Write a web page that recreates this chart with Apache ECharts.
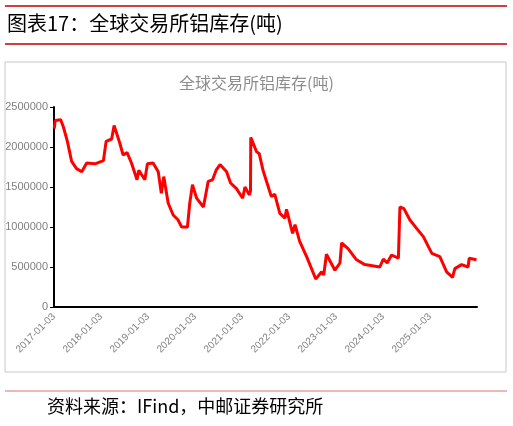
<!DOCTYPE html>
<html><head><meta charset="utf-8">
<script src="https://cdn.jsdelivr.net/npm/echarts@6/dist/echarts.min.js"></script>
<style>html,body{margin:0;padding:0;background:#fff}#c{width:513px;height:426px}</style>
</head><body><div id="c"></div>
<script>
var dates = ['2017-01-03','2017-01-10','2017-02-22','2017-03-15','2017-04-15','2017-05-18','2017-06-25','2017-08-05','2017-09-12','2017-11-15','2018-01-20','2018-02-10','2018-03-25','2018-04-13','2018-05-27','2018-06-22','2018-07-23','2018-08-26','2018-10-08','2018-10-22','2018-12-08','2018-12-28','2019-02-10','2019-03-22','2019-04-15','2019-05-04','2019-06-07','2019-07-16','2019-08-22','2019-09-20','2019-11-04','2019-11-22','2019-12-13','2020-01-14','2020-03-07','2020-04-13','2020-05-17','2020-06-14','2020-07-14','2020-09-03','2020-10-04','2020-11-19','2021-01-06','2021-01-24','2021-02-28','2021-03-08','2021-03-10','2021-03-18','2021-04-24','2021-05-14','2021-06-13','2021-08-17','2021-09-12','2021-10-22','2021-11-30','2021-12-13','2022-01-29','2022-02-17','2022-03-25','2022-05-18','2022-07-28','2022-09-12','2022-09-28','2022-10-19','2022-12-24','2023-02-01','2023-02-14','2023-04-05','2023-06-10','2023-08-13','2023-12-08','2024-01-04','2024-02-03','2024-03-08','2024-04-30','2024-05-12','2024-06-12','2024-07-28','2024-09-20','2024-11-10','2025-01-15','2025-03-18','2025-05-10','2025-06-25','2025-07-13','2025-09-03','2025-10-24','2025-11-01','2025-12-28'];
var stocks = [2230000,2330000,2340000,2250000,2070000,1820000,1730000,1690000,1800000,1790000,1830000,2070000,2100000,2270000,2050000,1900000,1930000,1800000,1590000,1710000,1590000,1790000,1800000,1690000,1420000,1630000,1300000,1150000,1090000,1000000,1000000,1300000,1530000,1360000,1250000,1570000,1590000,1710000,1780000,1690000,1550000,1480000,1360000,1500000,1400000,1450000,2120000,2110000,1940000,1920000,1710000,1380000,1410000,1170000,1110000,1220000,920000,1030000,820000,630000,350000,440000,400000,660000,460000,550000,800000,730000,590000,530000,500000,600000,550000,650000,610000,1250000,1230000,1090000,980000,880000,670000,630000,440000,370000,480000,530000,500000,610000,590000];
var yTicks = [0,500000,1000000,1500000,2000000,2500000];
var seriesData = dates.map(function(d,i){return [d, stocks[i]];});
var chart = echarts.init(document.getElementById('c'));
chart.setOption({
  animation:false,
  title:{text:'全球交易所铝库存(吨)',left:'center',top:70,textStyle:{color:'#8c8c8c',fontSize:16,fontWeight:'normal',fontFamily:'Noto Sans CJK SC'}},
  grid:{left:54,right:36,top:107,bottom:119},
  xAxis:{type:'time',min:'2017-01-01',max:'2026-01-01',
    minInterval:365*86400000,maxInterval:366*86400000,
    axisLine:{lineStyle:{color:'#000',width:2}},axisTick:{show:false},splitLine:{show:false},
    axisLabel:{rotate:45,color:'#7f7f7f',fontSize:10,showMaxLabel:false,hideOverlap:false,
      formatter:function(v){return new Date(v).getFullYear()+'-01-03';}}},
  yAxis:{type:'value',min:0,max:2500000,interval:500000,
    axisLine:{show:true,lineStyle:{color:'#000',width:2}},axisTick:{show:true,length:4,lineStyle:{color:'#000'}},
    splitLine:{show:false},axisLabel:{color:'#7f7f7f',fontSize:11,margin:6,
      formatter:function(v){return yTicks.indexOf(v)>=0?String(v):'';}}},
  series:[{type:'line',data:seriesData,showSymbol:false,lineStyle:{color:'#ff0000',width:3}}],
  graphic:[
    {type:'line',shape:{x1:5,y1:6,x2:507,y2:6},style:{stroke:'#c00000',lineWidth:1.5}},
    {type:'line',shape:{x1:5,y1:44,x2:507,y2:44},style:{stroke:'#c00000',lineWidth:1.5}},
    {type:'text',left:7,top:13,style:{text:'图表17：全球交易所铝库存(吨)',fill:'#000',font:'20px "Noto Sans CJK SC"'}},
    {type:'rect',shape:{x:5,y:62,width:501,height:310},style:{fill:'none',stroke:'#c8c8c8',lineWidth:1},z:-1},
    {type:'line',shape:{x1:5,y1:391,x2:507,y2:391},style:{stroke:'#d87070',lineWidth:1}},
    {type:'text',left:47,top:397,style:{text:'资料来源：IFind，中邮证券研究所',fill:'#000',font:'18px "Noto Sans CJK SC"'}}
  ]
});
</script></body></html>
